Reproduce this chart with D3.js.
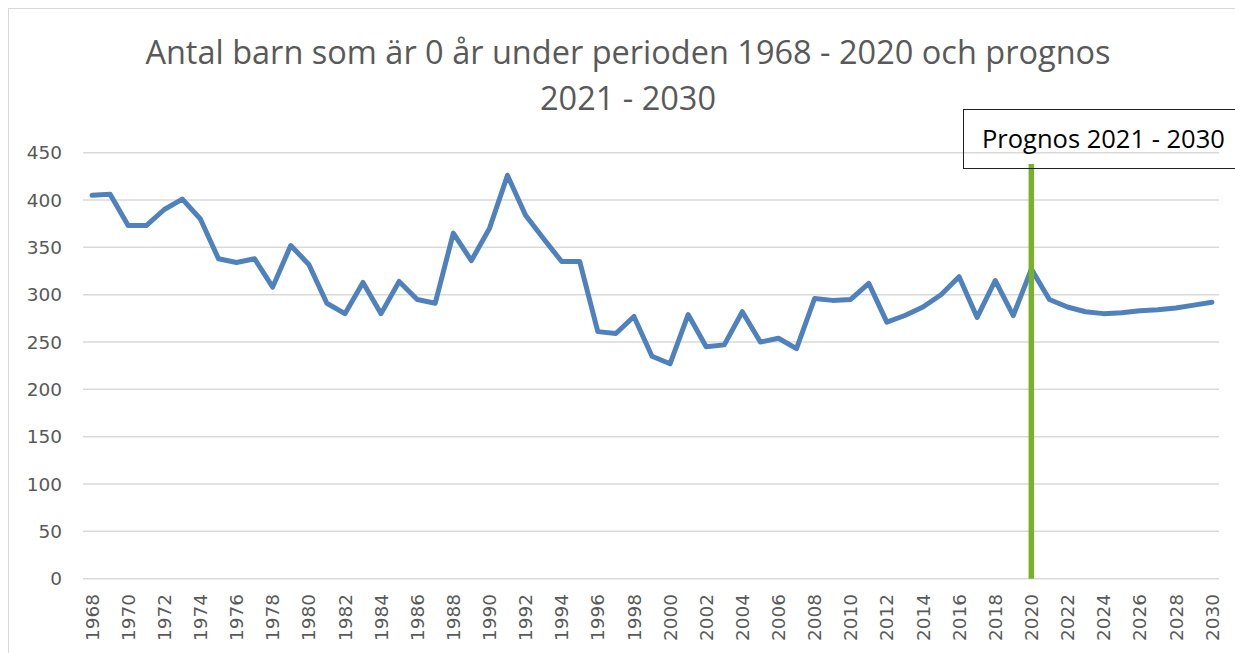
<!DOCTYPE html>
<html lang="sv">
<head>
    <meta charset="UTF-8">
    <title>Antal barn som är 0 år</title>
    <script src="https://cdn.jsdelivr.net/npm/d3@7"></script>
    <style>
        body { margin: 0; background: #fff; }
        .tick-label { font-family: "DejaVu Sans", sans-serif; font-size: 18.5px; fill: #595959; }
        .title { font-family: "Open Sans", sans-serif; font-size: 32.5px; fill: #595959; }
        .note { font-family: "Open Sans", sans-serif; font-size: 25.5px; fill: #000; }
    </style>
</head>
<body>
<script>
    // år 1968 - 2030
    var years = d3.range(1968, 2031);
    // antal barn som är 0 år, 1968-2020 utfall, 2021-2030 prognos
    var births = [405, 406, 373, 373, 390, 401, 380, 338, 334, 338,
        308, 352, 332, 291, 280, 313, 280, 314, 295, 291,
        365, 336, 370, 426, 384, 359, 335, 335, 261, 259,
        277, 235, 227, 279, 245, 247, 282, 250, 254, 243,
        296, 294, 295, 312, 271, 278, 287, 300, 319, 276,
        315, 278, 327, 295, 287, 282, 280, 281, 283, 284,
        286, 289, 292];
    var yTicks = [0, 50, 100, 150, 200, 250, 300, 350, 400, 450];
    var xTickYears = years.filter(function (d) { return d % 2 === 0; });
    var titleLines = ["Antal barn som är 0 år under perioden 1968 - 2020 och prognos", "2021 - 2030"];
    var noteText = "Prognos 2021 - 2030";
    var splitYear = 2020;

    var width = 1235;
    var height = 653;
    var plot = {left: 83, right: 1221, top: 152.7, bottom: 578.7};

    var svg = d3.select("body")
            .append("svg")
            .attr("width", width)
            .attr("height", height);

    // ram
    svg.append("rect")
            .attr("x", 8.5)
            .attr("y", 8.5)
            .attr("width", 1240)
            .attr("height", 660)
            .attr("fill", "#fff")
            .attr("stroke", "#d9d9d9");

    var x = d3.scalePoint()
            .domain(years)
            .range([plot.left, plot.right])
            .padding(0.5);

    var y = d3.scaleLinear()
            .domain([0, 450])
            .range([plot.bottom, plot.top]);

    // stödlinjer
    svg.append("g")
            .selectAll("line")
            .data(yTicks)
            .enter()
            .append("line")
            .attr("x1", plot.left)
            .attr("x2", plot.right - 2)
            .attr("y1", function (d) { return y(d); })
            .attr("y2", function (d) { return y(d); })
            .attr("stroke", "#d9d9d9")
            .attr("stroke-width", 1.5);

    // y-axel
    svg.append("g")
            .selectAll("text")
            .data(yTicks)
            .enter()
            .append("text")
            .attr("class", "tick-label")
            .attr("x", 62)
            .attr("y", function (d) { return y(d); })
            .attr("dy", "0.36em")
            .attr("text-anchor", "end")
            .text(function (d) { return d; });

    // x-axel
    svg.append("g")
            .selectAll("text")
            .data(xTickYears)
            .enter()
            .append("text")
            .attr("class", "tick-label")
            .attr("transform", function (d) {
                return "translate(" + x(d) + ",594) rotate(-90)";
            })
            .attr("dy", "0.36em")
            .attr("text-anchor", "end")
            .text(function (d) { return d; });

    // linjen
    var line = d3.line()
            .x(function (d, i) { return x(years[i]); })
            .y(function (d) { return y(d); });

    svg.append("path")
            .datum(births)
            .attr("d", line)
            .attr("fill", "none")
            .attr("stroke", "#4f81bd")
            .attr("stroke-width", 5)
            .attr("stroke-linejoin", "round")
            .attr("stroke-linecap", "round");

    // prognosgräns
    svg.append("line")
            .attr("x1", x(splitYear))
            .attr("x2", x(splitYear))
            .attr("y1", 164)
            .attr("y2", plot.bottom)
            .attr("stroke", "#78b12a")
            .attr("stroke-width", 5.5);

    svg.append("rect")
            .attr("x", 963.5)
            .attr("y", 109.5)
            .attr("width", 290)
            .attr("height", 59)
            .attr("fill", "none")
            .attr("stroke", "#222");

    svg.append("text")
            .attr("class", "note")
            .attr("x", 982)
            .attr("y", 148)
            .text(noteText);

    // rubrik
    svg.append("g")
            .selectAll("text")
            .data(titleLines)
            .enter()
            .append("text")
            .attr("class", "title")
            .attr("x", 628)
            .attr("y", function (d, i) { return 64 + i * 46; })
            .attr("text-anchor", "middle")
            .text(function (d) { return d; });
</script>
</body>
</html>
